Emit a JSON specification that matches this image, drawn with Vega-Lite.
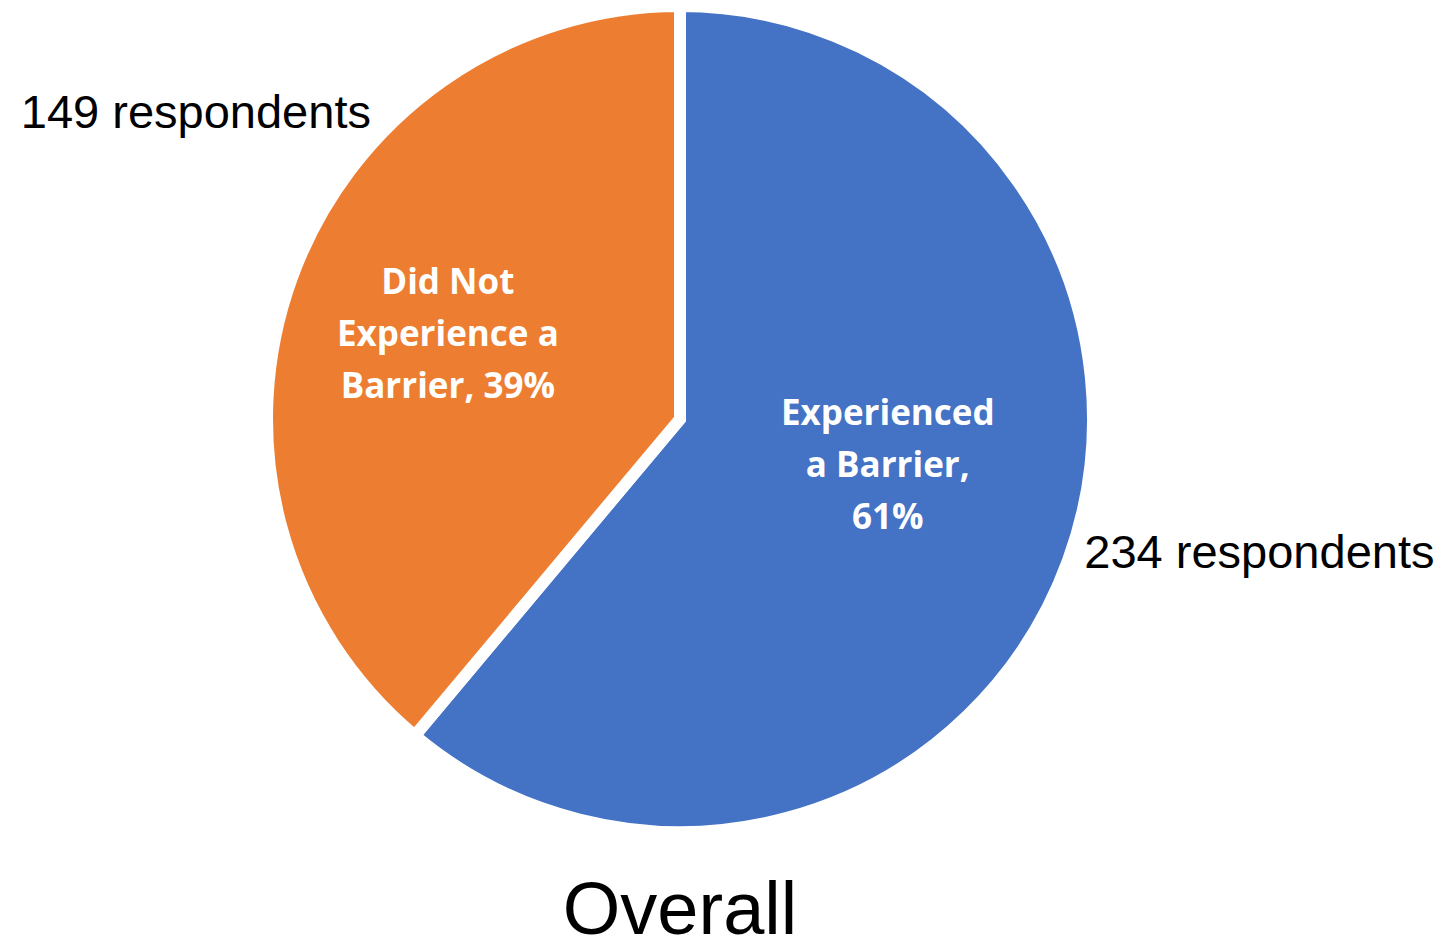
{
  "$schema": "https://vega.github.io/schema/vega-lite/v6.json",
  "width": 1360,
  "height": 838,
  "autosize": {"type": "none"},
  "padding": {"left": 0, "top": 0, "right": 87, "bottom": 98},
  "background": "white",
  "view": {"stroke": null},
  "title": {
    "text": "Overall",
    "orient": "bottom",
    "anchor": "middle",
    "font": "Liberation Sans",
    "fontSize": 74,
    "fontWeight": "normal",
    "color": "black",
    "baseline": "alphabetic",
    "offset": 78
  },
  "data": {
    "values": [
      {"category": "Experienced a Barrier", "count": 234, "label": "Experienced\na Barrier,\n61%", "respondents": "234 respondents"},
      {"category": "Did Not Experience a Barrier", "count": 149, "label": "Did Not\nExperience a\nBarrier, 39%", "respondents": "149 respondents"}
    ]
  },
  "encoding": {
    "theta": {"field": "count", "type": "quantitative", "stack": true},
    "order": {"field": "count", "sort": "descending"}
  },
  "layer": [
    {
      "mark": {"type": "arc", "outerRadius": 413, "stroke": "white", "strokeWidth": 12, "strokeJoin": "miter"},
      "encoding": {
        "color": {
          "field": "category",
          "type": "nominal",
          "scale": {"domain": ["Experienced a Barrier", "Did Not Experience a Barrier"], "range": ["#4472C4", "#ED7D31"]},
          "legend": null
        }
      }
    },
    {
      "mark": {"type": "text", "radius": 213, "thetaOffset": -0.127, "dy": -52, "font": "Open Sans", "fontWeight": "bold", "fontSize": 35, "color": "white", "lineBreak": "\n", "lineHeight": 52, "align": "center", "baseline": "middle"},
      "encoding": {
        "text": {"condition": {"test": "datum.category == 'Experienced a Barrier'", "field": "label"}, "value": ""}
      }
    },
    {
      "mark": {"type": "text", "radius": 247, "thetaOffset": 0.0, "dy": -52, "font": "Open Sans", "fontWeight": "bold", "fontSize": 35, "color": "white", "lineBreak": "\n", "lineHeight": 52, "align": "center", "baseline": "middle"},
      "encoding": {
        "text": {"condition": {"test": "datum.category == 'Did Not Experience a Barrier'", "field": "label"}, "value": ""}
      }
    },
    {
      "mark": {"type": "text", "radius": 595, "thetaOffset": -0.119, "font": "Liberation Sans", "fontSize": 47, "color": "black", "align": "center", "baseline": "middle"},
      "encoding": {
        "text": {"condition": {"test": "datum.category == 'Experienced a Barrier'", "field": "respondents"}, "value": ""}
      }
    },
    {
      "mark": {"type": "text", "radius": 572, "thetaOffset": 0.213, "font": "Liberation Sans", "fontSize": 47, "color": "black", "align": "center", "baseline": "middle"},
      "encoding": {
        "text": {"condition": {"test": "datum.category == 'Did Not Experience a Barrier'", "field": "respondents"}, "value": ""}
      }
    }
  ]
}
